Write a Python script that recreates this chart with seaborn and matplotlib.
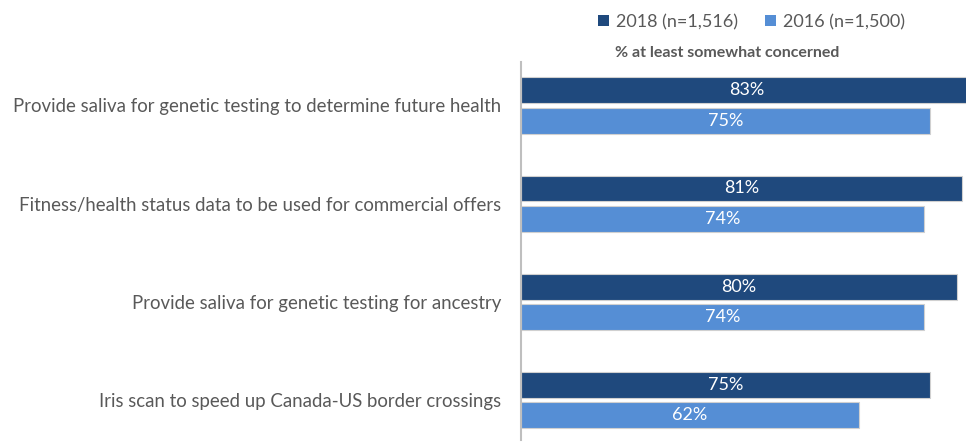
import matplotlib
matplotlib.use("Agg")
import matplotlib.pyplot as plt
import seaborn as sns
import pandas as pd
from matplotlib.patches import Patch

categories = [
    "Provide saliva for genetic testing to determine future health",
    "Fitness/health status data to be used for commercial offers",
    "Provide saliva for genetic testing for ancestry",
    "Iris scan to speed up Canada-US border crossings",
]
series_names = ["2018 (n=1,516)", "2016 (n=1,500)"]
values_2018 = [83, 81, 80, 75]
values_2016 = [75, 74, 74, 62]
subtitle = "% at least somewhat concerned"

colors = ["#1F497D", "#558ED5"]
text_grey = "#595959"

sns.set_theme(style="white")
plt.rcParams["font.family"] = ["Lato", "DejaVu Sans"]

df = pd.DataFrame({
    "item": categories * 2,
    "series": [series_names[0]] * 4 + [series_names[1]] * 4,
    "value": values_2018 + values_2016,
})

fig = plt.figure(figsize=(9.66, 4.44), dpi=100)
ax = fig.add_axes([521 / 966, 4 / 444, 445 / 966, 378 / 444])

sns.barplot(data=df, y="item", x="value", hue="series", hue_order=series_names,
            order=categories, palette=colors, saturation=1, orient="h",
            width=0.62, gap=0.15, edgecolor="#D0D0D0", linewidth=0.8,
            legend=False, ax=ax)

ax.set_xlim(0, 445 / 5.45)
ax.set_ylim(3.407, -0.443)

# value labels centred on each bar
for container, vals in zip(ax.containers, [values_2018, values_2016]):
    for bar, v in zip(container, vals):
        cy = bar.get_y() + bar.get_height() / 2
        ax.text(v / 2, cy, f"{v}%", ha="center", va="center", color="white",
                fontsize=13, clip_on=False)

ax.set_xlabel("")
ax.set_ylabel("")
ax.set_xticks([])
ax.tick_params(axis="y", length=0, pad=14, labelsize=13.4, labelcolor=text_grey)
for s in ["top", "right", "bottom"]:
    ax.spines[s].set_visible(False)
ax.spines["left"].set_color("#BFBFBF")
ax.spines["left"].set_linewidth(1.5)

handles = [Patch(facecolor=c, edgecolor="none") for c in colors]
fig.legend(handles, series_names, loc="center left", bbox_to_anchor=(582 / 966, 1 - 22 / 444),
           ncol=2, frameon=False, fontsize=13, labelcolor=text_grey,
           handlelength=0.6, handleheight=0.6, handletextpad=0.4, columnspacing=1.5)

fig.text(727 / 966, 1 - 53 / 444, subtitle, ha="center", va="center",
         fontsize=11.5, fontweight="bold", color=text_grey)

fig.savefig("out.png", dpi=100)
